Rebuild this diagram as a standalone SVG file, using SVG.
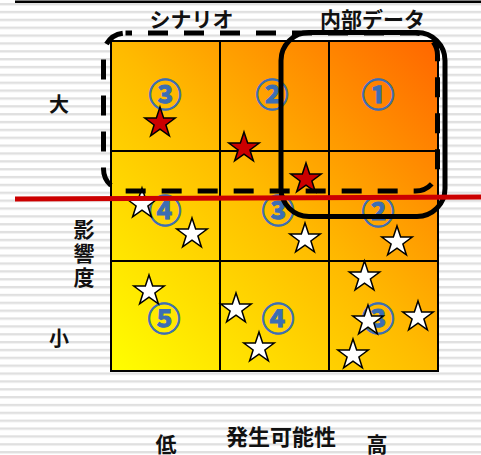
<svg xmlns="http://www.w3.org/2000/svg" xmlns:xlink="http://www.w3.org/1999/xlink" width="481" height="455" viewBox="0 0 481 455">
<style>
.lbl{font-family:"Liberation Sans","Noto Sans CJK JP",sans-serif;font-weight:bold;fill:#111;text-anchor:middle}
.num{font-family:"Noto Sans CJK JP","DejaVu Sans",sans-serif;font-weight:bold;fill:#3c6eb4;stroke:#3c6eb4;stroke-width:0.9;font-size:33px;text-anchor:middle}
.grid{stroke:#000;stroke-width:2;fill:none}
.red{fill:#cc0000;stroke:#000;stroke-width:1.5;stroke-linejoin:miter}
.white{fill:#fff;stroke:#000;stroke-width:1.5;stroke-linejoin:miter}
</style>
<defs>
<pattern id="stripes" patternUnits="userSpaceOnUse" x="0" y="3" width="481" height="7.86">
<rect x="0" y="0" width="481" height="2.4" fill="#e0e0e0"/>
</pattern>
<linearGradient id="heat" x1="0" y1="1" x2="1" y2="0">
<stop offset="0" stop-color="#ffff00"/>
<stop offset="0.5" stop-color="#ffbb00"/>
<stop offset="1" stop-color="#ff6600"/>
</linearGradient>
<polygon id="star" points="0,-16 3.644,-5.016 15.217,-4.944 5.897,1.916 9.405,12.944 0,6.2 -9.405,12.944 -5.897,1.916 -15.217,-4.944 -3.644,-5.016"/>
</defs>
<rect width="481" height="455" fill="#fff"/>
<rect width="481" height="455" fill="url(#stripes)"/>
<rect x="15" y="0.5" width="466" height="2.5" fill="#000"/>

<g id="matrix">
<rect x="111" y="41" width="327" height="330" fill="url(#heat)"/>
<path class="grid" d="M220,41V371M329,41V371M111,151H438M111,261H438"/>
<rect x="111" y="41" width="327" height="330" class="grid" stroke-width="2.5"/>
</g>

<g id="levels">
<text class="num" x="165" y="107">③</text>
<text class="num" x="272" y="107">②</text>
<text class="num" x="378" y="107">①</text>
<text class="num" x="165" y="223">④</text>
<text class="num" x="278" y="223">③</text>
<text class="num" x="378" y="224">②</text>
<text class="num" x="164" y="331">⑤</text>
<text class="num" x="278" y="331">④</text>
<text class="num" x="378" y="331">③</text>
</g>

<g id="stars">
<use href="#star" class="red" transform="translate(160,123)"/>
<use href="#star" class="red" transform="translate(244,148)"/>
<use href="#star" class="red" transform="translate(306,179)"/>
<use href="#star" class="white" transform="translate(142,204)"/>
<use href="#star" class="white" transform="translate(192,234)"/>
<use href="#star" class="white" transform="translate(305,239)"/>
<use href="#star" class="white" transform="translate(397,242)"/>
<use href="#star" class="white" transform="translate(149,291)"/>
<use href="#star" class="white" transform="translate(236,309)"/>
<use href="#star" class="white" transform="translate(259,348)"/>
<use href="#star" class="white" transform="translate(364.5,277)"/>
<use href="#star" class="white" transform="translate(368,321)"/>
<use href="#star" class="white" transform="translate(418,317)"/>
<use href="#star" class="white" transform="translate(353,355)"/>
</g>

<g id="scenario">
<rect x="103.5" y="33" width="334" height="158" rx="22" fill="none" stroke="#000" stroke-width="5" stroke-dasharray="20 16" stroke-dashoffset="13.5"/>
<text class="lbl" x="191.5" y="27" font-size="21">シナリオ</text>
</g>

<g id="internal-data">
<rect x="281" y="32.5" width="164" height="184" rx="28" fill="none" stroke="#000" stroke-width="5"/>
<text class="lbl" x="372.5" y="27" font-size="21">内部データ</text>
</g>

<g id="threshold">
<line x1="15" y1="199" x2="481" y2="197" stroke="#cc0000" stroke-width="5"/>
</g>

<g id="axis-impact">
<text class="lbl" x="59" y="112" font-size="20">大</text>
<text class="lbl" x="84" y="237" font-size="21">影</text>
<text class="lbl" x="84" y="261" font-size="21">響</text>
<text class="lbl" x="84" y="285" font-size="21">度</text>
<text class="lbl" x="59" y="346" font-size="20">小</text>
</g>

<g id="axis-likelihood">
<text class="lbl" x="166" y="452" font-size="21">低</text>
<text class="lbl" x="281" y="445" font-size="22">発生可能性</text>
<text class="lbl" x="377" y="452" font-size="21">高</text>
</g>
</svg>
